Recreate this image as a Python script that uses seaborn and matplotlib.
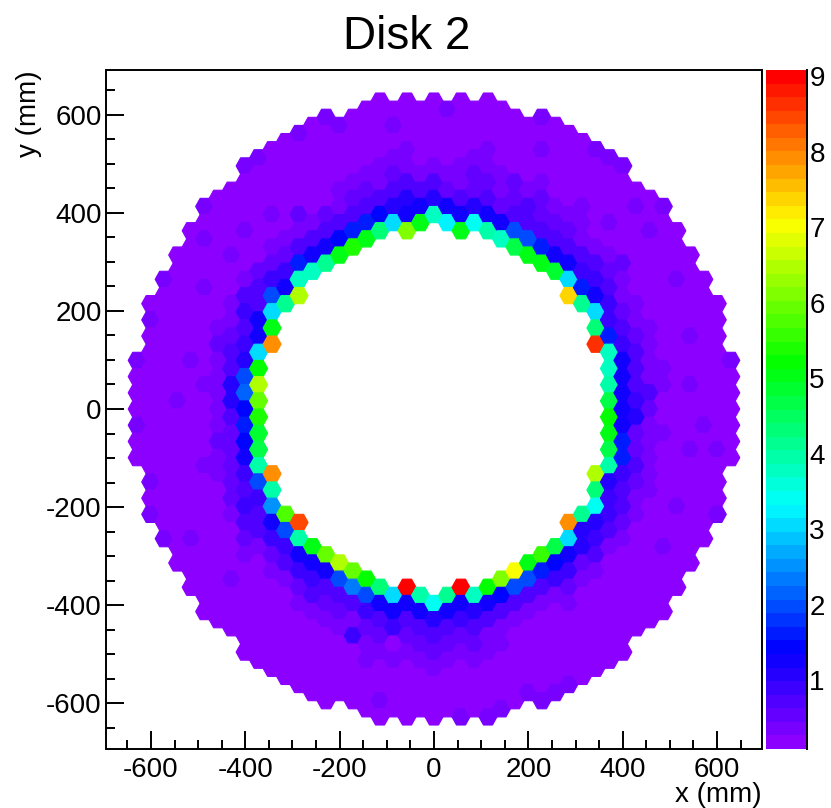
import matplotlib
matplotlib.use("Agg")
import matplotlib.pyplot as plt
import numpy as np
import pandas as pd
import seaborn as sns
from matplotlib.colors import LinearSegmentedColormap, Normalize
from matplotlib.cm import ScalarMappable
from matplotlib.path import Path
from matplotlib.ticker import MultipleLocator, FixedLocator

# Values per hexagon, column by column, read top to bottom.
# _u = above the hole (or whole column), _l = below the hole.
m22 = [.3,.2,.2,.2,.3,.2,.2]
m21 = [.25,.3,.2,.2,.2,.2,.2,.2,.2,.2,.2,.3,.2,.4]
m20 = [.3,.2,.2,.2,.2,.2,.2,.2,.2,.2,.2,.2,.2,.2,.2,.2,.3]
m19 = [.25,.2,.2,.2,.2,.2,.2,.2,.2,.4,.2,.2,.2,.2,.2,.2,.2,.2,.2,.2]
m18 = [.25,.2,.2,.2,.2,.2,.2,.2,.4,.2,.2,.2,.2,.2,.2,.2,.2,.2,.2,.3,.2,.2,.2]
m17 = [.4,.2,.3,.2,.2,.4,.2,.2,.2,.25,.25,.3,.25,.25,.25,.25,.3,.25,.2,.2,.2,.2,.2,.2,.2,.2]
m16 = [.25,.2,.2,.2,.2,.2,.2,.25,.3,.5,.4,.3,.3,.3,.4,.5,.3,.3,.25,.2,.2,.2,.2,.2,.2,.2,.2]
m15 = [.2,.2,.2,.2,.4,.2,.25,.3,.4,.5,.7,.7,1.0,1.0,.7,.5,.5,.5,.5,.5,.3,.25,.2,.2,.3,.2,.2,.2]
m14 = [.3,.2,.2,.2,.3,.2,.25,.4,.7,.9,.8,.9,1.0,1.9,2.1,1.4,1.7,1.35,1.3,.9,.8,.9,.7,.5,.3,.2,.2,.2,.2,.2,.2]
m13 = [.3,.2,.2,.2,.2,.2,.25,.5,.7,.8,1.2,1.3,3.1,5.2,6.5,5.9,5.4,4.9,4.7,3.9,2.0,.9,.8,.8,.4,.25,.2,.2,.2,.2,.2,.2]
m12_u = [.2,.2,.2,.2,.4,.25,.4,.5,.9,1.9,3.1,5.1,7.9]
m12_l = [7.9,4.0,2.6,1.2,.9,.5,.3,.2,.2,.2,.2,.2,.2]
m11_u = [.2,.2,.2,.2,.2,.25,.3,.5,.9,1.3,4.2]
m11_l = [5.8,1.9,.9,.8,.4,.25,.2,.2,.2,.2,.2]
m10_u = [.3,.2,.2,.2,.2,.5,.4,.7,1.6,3.8,6.4]
m10_l = [8.4,3.9,1.3,.85,.5,.3,.2,.2,.2,.2,.2]
m09_u = [.2,.2,.2,.2,.2,.25,.4,.8,1.3,3.7]
m09_l = [5.0,1.3,.9,.8,.3,.25,.2,.2,.2,.2]
m08_u = [.4,.2,.2,.2,.2,.25,.5,.8,1.3,4.1]
m08_l = [5.9,1.3,.8,.5,.3,.2,.2,.2,.2,.2]
m07_u = [.3,.2,.2,.2,.4,.4,.7,1.4,5.0]
m07_l = [6.5,1.9,.8,.5,.3,.2,.2,.2,.2]
m06_u = [.2,.2,.2,.2,.3,.5,.8,1.6,5.4]
m06_l = [6.0,2.3,.8,.4,.85,.25,.2,.2,.2]
m05_u = [.2,.2,.2,.25,.3,.5,.8,1.7,5.0]
m05_l = [5.3,1.9,.85,.5,.3,.4,.2,.2,.2]
m04_u = [.2,.2,.2,.2,.3,.4,.7,1.4,4.3]
m04_l = [4.4,1.3,.8,.5,.3,.2,.2,.4,.2]
m03_u = [.2,.4,.2,.3,.5,.75,1.0,3.0]
m03_l = [3.1,1.2,.95,.15,.4,.25,.2,.2]
m02_u = [.2,.2,.2,.4,.4,.7,1.0,1.3,6.2]
m02_l = [9.0,1.3,.8,.5,.3,.25,.2,.2,.2]
m01_u = [.2,.2,.2,.25,.4,.7,1.3,5.0]
m01_l = [3.9,1.25,.8,.5,.3,.25,.2,.2]
p00_u = [.2,.2,.2,.25,.4,.8,1.0,3.8]
p00_l = [3.5,1.1,.8,.5,.3,.25,.2,.2]
p01_u = [.4,.2,.2,.25,.4,.5,1.3,3.2]
p01_l = [4.2,1.3,.8,.5,.3,.25,.2,.2]
p02_u = [.2,.2,.2,.2,.3,.4,.7,1.3,5.0]
p02_l = [9.0,1.3,.85,.5,.3,.25,.2,.2,.3]
p03_u = [.2,.2,.2,.4,.5,.5,1.0,3.4]
p03_l = [3.7,1.1,.8,.5,.3,.2,.2,.2]
p04_u = [.2,.2,.2,.3,.4,.5,.8,1.3,3.9]
p04_l = [5.2,1.3,.7,.4,.3,.2,.2,.2,.3]
p05_u = [.2,.2,.2,.25,.4,.4,.5,1.3,3.7]
p05_l = [6.1,1.35,.8,.4,.3,.2,.2,.2,.3]
p06_u = [.2,.2,.2,.25,.5,.5,.8,1.9,4.7]
p06_l = [7.0,1.9,.8,.4,.25,.2,.2,.2,.2]
p07_u = [.2,.2,.2,.25,.4,.7,.8,1.9,5.1]
p07_l = [5.1,1.9,.8,.4,.15,.2,.2,.2,.3]
p08_u = [.3,.2,.4,.2,.3,.6,.6,.7,1.7,5.0]
p08_l = [5.6,1.7,.8,.4,.25,.2,.2,.2,.2,.3]
p09_u = [.2,.2,.2,.2,.25,.4,.5,.8,1.3,4.9]
p09_l = [4.7,1.5,.9,.4,.25,.2,.2,.2,.2,.3]
p10_u = [.2,.2,.2,.2,.2,.4,.5,.8,1.3,3.1,7.3]
p10_l = [8.0,3.0,1.2,.9,.5,.3,.2,.2,.2,.2,.3]
p11_u = [.2,.2,.2,.2,.3,.3,.4,.7,.9,1.7,4.2]
p11_l = [4.2,1.1,1.0,.5,.3,.25,.2,.2,.2,.2,.2]
p12_u = [.3,.2,.2,.2,.25,.25,.4,.75,.9,1.2,3.1,4.4,8.6]
p12_l = [6.4,4.3,3.4,1.0,.9,.8,.4,.25,.2,.2,.2,.2,.2]
p13 = [.3,.2,.2,.2,.3,.25,.4,.5,.8,.9,.9,1.7,3.7,3.8,3.9,4.6,5.2,5.1,4.6,4.0,1.0,.9,.85,.7,.4,.25,.2,.2,.2,.2,.2,.2]
p14 = [.3,.2,.2,.2,.2,.25,.5,.3,.4,.5,.75,.85,1.3,1.2,1.3,1.25,1.25,1.7,1.7,.9,.75,.8,.5,.4,.25,.2,.25,.2,.2,.2,.2]
p15 = [.2,.4,.2,.2,.2,.25,.25,.3,.4,.5,.75,.8,.7,.9,1.0,.5,.5,.8,.5,.4,.3,.25,.2,.2,.2,.2,.2,.2]
p16 = [.2,.2,.4,.2,.2,.2,.25,.25,.3,.3,.4,.3,.75,.5,.4,.4,.4,.4,.3,.25,.2,.2,.2,.2,.2,.2,.2]
p17 = [.3,.2,.2,.2,.2,.2,.2,.25,.25,.25,.3,.3,.25,.25,.3,.25,.25,.25,.2,.2,.2,.4,.2,.2,.2,.2]
p18 = [.2,.2,.2,.3,.2,.2,.2,.2,.2,.2,.2,.2,.2,.2,.2,.2,.2,.3,.2,.2,.2,.2,.2]
p19 = [.2,.2,.2,.2,.2,.3,.2,.2,.3,.2,.2,.2,.3,.2,.2,.2,.2,.2,.2,.2]
p20 = [.2,.2,.2,.2,.2,.2,.2,.2,.2,.3,.2,.2,.2,.2,.2,.2,.2]
p21 = [.2,.2,.2,.2,.2,.2,.2,.2,.2,.3,.2,.2,.2,.3]
p22 = [.3,.2,.2,.2,.2,.2,.2]

# Column number, topmost row (in row pitches), upper values, lower values
columns = [
    (-22, 3, m22, []), (-21, 6.5, m21, []), (-20, 8, m20, []), (-19, 9.5, m19, []),
    (-18, 11, m18, []), (-17, 12.5, m17, []), (-16, 13, m16, []), (-15, 13.5, m15, []),
    (-14, 15, m14, []), (-13, 15.5, m13, []),
    (-12, 16, m12_u, m12_l), (-11, 16.5, m11_u, m11_l), (-10, 17, m10_u, m10_l),
    (-9, 17.5, m09_u, m09_l), (-8, 18, m08_u, m08_l), (-7, 17.5, m07_u, m07_l),
    (-6, 18, m06_u, m06_l), (-5, 18.5, m05_u, m05_l), (-4, 19, m04_u, m04_l),
    (-3, 18.5, m03_u, m03_l), (-2, 19, m02_u, m02_l), (-1, 18.5, m01_u, m01_l),
    (0, 19, p00_u, p00_l), (1, 18.5, p01_u, p01_l), (2, 19, p02_u, p02_l),
    (3, 18.5, p03_u, p03_l), (4, 19, p04_u, p04_l), (5, 18.5, p05_u, p05_l),
    (6, 18, p06_u, p06_l), (7, 17.5, p07_u, p07_l), (8, 18, p08_u, p08_l),
    (9, 17.5, p09_u, p09_l), (10, 17, p10_u, p10_l), (11, 16.5, p11_u, p11_l),
    (12, 16, p12_u, p12_l),
    (13, 15.5, p13, []), (14, 15, p14, []), (15, 13.5, p15, []), (16, 13, p16, []),
    (17, 12.5, p17, []), (18, 11, p18, []), (19, 9.5, p19, []), (20, 8, p20, []),
    (21, 6.5, p21, []), (22, 3, p22, []),
]
col_pitch_mm = 28.6
row_pitch_mm = 33.05

records = []
for col, top, upper, lower in columns:
    for i, v in enumerate(upper):
        records.append((col * col_pitch_mm, (top - i) * row_pitch_mm, v))
    for i, v in enumerate(lower):
        records.append((col * col_pitch_mm, (-top + len(lower) - 1 - i) * row_pitch_mm, v))
df = pd.DataFrame(records, columns=["x", "y", "value"])

sns.set_theme(style="ticks", rc={
    "axes.unicode_minus": False,
    "axes.linewidth": 1.4,
    "axes.edgecolor": "black",
    "text.color": "black",
    "axes.labelcolor": "black",
    "xtick.color": "black",
    "ytick.color": "black",
})
plt.rcParams["font.family"] = ["Liberation Sans", "DejaVu Sans"]

vmin, vmax = 0.09, 9.08
stops = [(0.09, (0.55, 0, 1)), (1.35, (0, 0, 1)), (3.3, (0, 1, 1)),
         (5.2, (0, 1, 0)), (7.1, (1, 1, 0)), (9.08, (1, 0, 0))]
cmap = LinearSegmentedColormap.from_list(
    "root_rainbow", [((v - vmin) / (vmax - vmin), c) for v, c in stops], N=50)
norm = Normalize(vmin, vmax)

W, H = 831, 808
fig = plt.figure(figsize=(W / 100, H / 100), dpi=100, facecolor="white")
L, R, T, B = 106.5, 761.5, 70, 749
ax = fig.add_axes([L / W, 1 - B / H, (R - L) / W, (B - T) / H])

hex_marker = Path([(1, 0), (.5, .9), (-.5, .9), (-1, 0), (-.5, -.9), (.5, -.9), (1, 0)], closed=True)
sns.scatterplot(data=df, x="x", y="y", hue="value", palette=cmap, hue_norm=norm,
                marker=hex_marker, s=168, linewidth=0.8, edgecolor="face",
                legend=False, ax=ax, clip_on=True)

ax.set_xlim(-694.3, 694.3)
ax.set_ylim(-693.4, 691.4)
ax.xaxis.set_major_locator(MultipleLocator(200))
ax.yaxis.set_major_locator(MultipleLocator(200))
ax.xaxis.set_minor_locator(MultipleLocator(50))
ax.yaxis.set_minor_locator(MultipleLocator(50))
ax.tick_params(which="major", direction="in", length=13, width=1.4, labelsize=20)
ax.tick_params(which="minor", direction="in", length=6.5, width=1.4)
ax.tick_params(axis="x", which="major", pad=6)
ax.tick_params(axis="y", which="major", pad=3.5)

ax.set_xlabel("x (mm)", fontsize=20, loc="right")
ax.set_ylabel("y (mm)", fontsize=20, loc="top")
ax.xaxis.set_label_coords(1.0, (B - 782.5) / (B - T))
ax.yaxis.set_label_coords((42 - L) / (R - L), 1.0)
ax.set_title("Disk 2", fontsize=33, x=(407 - L) / (R - L), y=(B - 49) / (B - T), pad=0, va="baseline")

cax = fig.add_axes([766 / W, 1 - B / H, (806.5 - 766) / W, (B - T) / H])
cb = fig.colorbar(ScalarMappable(norm=norm, cmap=cmap), cax=cax)
cb.outline.set_visible(False)
cax.spines["right"].set_visible(True)
cax.spines["right"].set_linewidth(1.4)
cb.set_ticks(FixedLocator([1, 2, 3, 4, 5, 6, 7, 8, 9]))
cb.set_ticklabels(["1", "2", "3", "4", "5", "6", "7", "8", "9"])
cb.minorticks_off()
cax.tick_params(direction="in", length=15.5, width=1.4, labelsize=20, pad=2, right=True)

fig.savefig("out.png", dpi=100)
